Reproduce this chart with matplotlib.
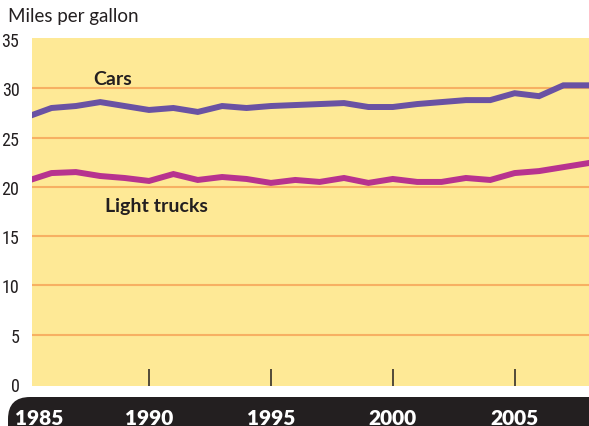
import matplotlib.pyplot as plt
from matplotlib.patches import FancyBboxPatch
from matplotlib.transforms import IdentityTransform
from matplotlib import font_manager

# miles per gallon, model years 1985-2008
years = list(range(1985, 2009))
cars = [27.1, 28.0, 28.2, 28.6, 28.2, 27.8, 28.0, 27.6, 28.2, 28.0, 28.2, 28.3,
        28.4, 28.5, 28.1, 28.1, 28.4, 28.6, 28.8, 28.8, 29.5, 29.2, 30.3, 30.3]
trucks = [20.6, 21.4, 21.5, 21.1, 20.9, 20.6, 21.3, 20.7, 21.0, 20.8, 20.4, 20.7,
          20.5, 20.9, 20.4, 20.8, 20.5, 20.5, 20.9, 20.7, 21.4, 21.6, 22.0, 22.4]
yticks = [0, 5, 10, 15, 20, 25, 30, 35]
xticks = [1990, 1995, 2000, 2005]
year_labels = ["1985", "1990", "1995", "2000", "2005"]

dark = "#231f20"
W, H = 589, 427

# narrow font for the y labels if there is one
narrow = None
for f in font_manager.fontManager.ttflist:
    if "Narrow" in f.name or "Condensed" in f.name:
        narrow = f.fname
        if "Liberation" in f.name and f.weight in (400, "normal", "regular"):
            break
print(narrow)
if narrow:
    ylab_font = font_manager.FontProperties(fname=narrow, size=13)
else:
    ylab_font = font_manager.FontProperties(family="Lato", size=12)

fig = plt.figure(figsize=(W / 100, H / 100), dpi=100)
ax = fig.add_axes([32 / W, (H - 387) / H, (W - 32) / W, (387 - 39) / H])
ax.set_facecolor("#fee996")
for s in ax.spines.values():
    s.set_visible(False)

# grid lines
for v in yticks[1:-1]:
    ax.axhline(v, color="#f7b062", lw=1.5, zorder=1)

ax.plot(years, cars, color="#6a52a3", lw=4.3, zorder=3, solid_joinstyle="miter")
ax.plot(years, trucks, color="#b7338f", lw=4.3, zorder=3, solid_joinstyle="miter")

ax.set_xlim(1985.2, 2008.05)
ax.set_ylim(-0.2, 35.1)
ax.set_yticks(yticks)
ax.set_yticklabels([str(v) for v in yticks], fontproperties=ylab_font, color=dark)
ax.tick_params(axis="y", length=0, pad=9)
ax.set_xticks(xticks)
ax.tick_params(axis="x", direction="in", length=12, width=1.1, color=dark,
               labelbottom=False)

ax.text(1987.7, 30.4, "Cars", fontsize=14, fontweight="bold", family="Lato",
        color=dark, va="baseline")
ax.text(1988.2, 17.55, "Light trucks", fontsize=14, fontweight="bold",
        family="Lato", color=dark, va="baseline")

fig.text(8 / W, (H - 8) / H, "Miles per gallon", fontsize=13.5, family="Lato",
         color=dark, va="top")

# black band with rounded left end
band = FancyBboxPatch((8, -30), 700, 59, boxstyle="round,pad=0,rounding_size=22",
                      transform=IdentityTransform(), facecolor=dark,
                      edgecolor="none")
fig.patches.append(band)

for lab in year_labels:
    yr = int(lab)
    xp = ax.transData.transform((yr, 0))[0]
    if yr == 1985:
        xp = 39
    fig.text(xp / W, (H - 409) / H, lab, fontsize=15, fontweight="heavy",
             family="Lato", color="white", ha="center", va="top")

fig.savefig("out.png", dpi=100)
